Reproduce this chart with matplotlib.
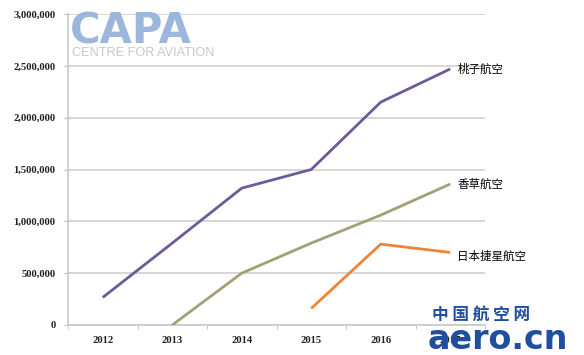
import matplotlib
matplotlib.use("Agg")
import matplotlib.pyplot as plt
from matplotlib.ticker import FuncFormatter, FixedLocator

years = ["2012", "2013", "2014", "2015", "2016", "2017"]
peach = [266000, 790000, 1320000, 1500000, 2150000, 2470000]
vanilla = [None, 0, 500000, 790000, 1060000, 1360000]
jetstar = [None, None, None, 160000, 780000, 700000]
series_names = ["桃子航空", "香草航空", "日本捷星航空"]
colors = ["#6E5A96", "#A3A075", "#EE8434"]

plt.rcParams['font.family'] = ['Noto Sans CJK SC', 'DejaVu Sans']

fig = plt.figure(figsize=(5.84, 3.55), dpi=100)
ax = fig.add_axes([68/584, 30/355, 417/584, 311/355])

x = list(range(len(years)))
for vals, c, name in zip([peach, vanilla, jetstar], colors, series_names):
    xs = [i for i, v in zip(x, vals) if v is not None]
    ys = [v for v in vals if v is not None]
    ax.plot(xs, ys, color=c, lw=2.0, solid_capstyle='butt', zorder=3)
    ax.text(xs[-1] + 0.1, ys[-1] + (0 if name != "日本捷星航空" else -40000), name,
            fontsize=8.3, color='black', va='center', ha='left',
            family=['Noto Sans CJK SC', 'DejaVu Sans'], clip_on=False)

ax.set_xlim(-0.5, 5.5)
ax.set_ylim(0, 3000000)
ax.set_yticks(range(0, 3000001, 500000))
ax.yaxis.set_major_formatter(FuncFormatter(lambda v, p: f"{int(v):,}"))
ax.set_xticks(x)
ax.set_xticklabels(years)
ax.xaxis.set_minor_locator(FixedLocator([i + 0.5 for i in range(-1, 6)]))
ax.tick_params(axis='x', which='major', length=0, pad=8)
ax.tick_params(axis='x', which='minor', length=3, color='#BBBBBB')
ax.tick_params(axis='y', length=3, color='#BBBBBB', pad=6)
for lbl in ax.get_xticklabels() + ax.get_yticklabels():
    lbl.set_family('Liberation Serif')
    lbl.set_fontweight('bold')
    lbl.set_fontsize(7.7)
    lbl.set_color('#222222')

ax.grid(axis='y', color='#D3D3D3', lw=1.3)
ax.set_axisbelow(True)
for s in ['top', 'right']:
    ax.spines[s].set_visible(False)
ax.spines['left'].set_color('#C8C8C8')
ax.spines['bottom'].set_color('#C8C8C8')
ax.spines['left'].set_linewidth(1.2)
ax.spines['bottom'].set_linewidth(1.2)

# CAPA logo
fig.text(70/584, 1 - 44/355, "CAPA", fontsize=30, fontweight='heavy', color='#9DB7DC',
         family='DejaVu Sans', ha='left', va='baseline')
fig.text(72/584, 1 - 56/355, "CENTRE FOR AVIATION", fontsize=9.2, color='#C8C8C8',
         family='Liberation Sans', ha='left', va='baseline')

# watermark
fig.text(432/584, 1 - 320/355, "中 国 航 空 网", fontsize=12, fontweight='bold', color='#1F4E9E',
         family=['Noto Sans CJK SC', 'DejaVu Sans'], ha='left', va='baseline')
fig.text(428/584, 1 - 349/355, "aero.cn", fontsize=24, fontweight='bold', color='#1F4E9E',
         family='DejaVu Sans', ha='left', va='baseline')

fig.savefig("out.png", dpi=100, facecolor='white')
